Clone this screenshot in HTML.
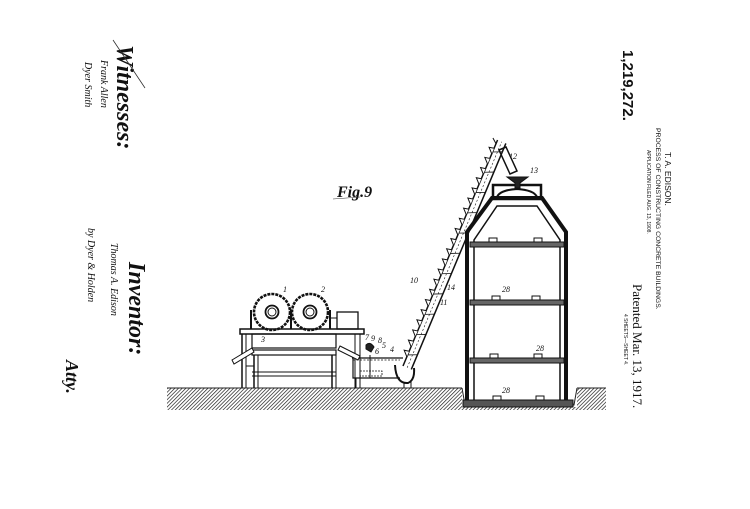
<!DOCTYPE html>
<html><head><meta charset="utf-8"><style>
html,body{margin:0;padding:0;background:#fff;}
svg{display:block}
text{fill:#111}
</style></head><body>
<svg width="750" height="509" viewBox="0 0 750 509" xmlns="http://www.w3.org/2000/svg">
<defs>
<pattern id="h" width="2.6" height="2.6" patternUnits="userSpaceOnUse" patternTransform="rotate(45)">
<line x1="0" y1="0" x2="0" y2="2.6" stroke="#222" stroke-width="1.4"/>
</pattern>
</defs>
<rect width="750" height="509" fill="#fff"/>

<!-- ground -->
<path d="M167,388 H462 V407 H577 V388 H606 V410 H167 Z" fill="url(#h)"/>
<line x1="167" y1="388" x2="462" y2="388" stroke="#222" stroke-width="1"/>
<line x1="577" y1="388" x2="606" y2="388" stroke="#222" stroke-width="1"/>
<path d="M462,388 L465,405 H574 L577,388" fill="#fff" stroke="#222"/>

<!-- building -->
<g fill="none" stroke="#111">
<rect x="463" y="400" width="110" height="7" fill="#555"/>
<path d="M467,400 V232 L492,198 H542 L566,232 V400" stroke-width="4"/>
<path d="M474,400 V240 L497,206 H537 L560,240 V400" stroke-width="1.5"/>
<rect x="470" y="242" width="94" height="5" fill="#666" stroke-width="1"/>
<rect x="470" y="300" width="94" height="5" fill="#666" stroke-width="1"/>
<rect x="470" y="358" width="94" height="5" fill="#666" stroke-width="1"/>
<rect x="493" y="185" width="48" height="14" stroke-width="2.5"/>
<path d="M497,197 Q500,190 517,189 Q534,190 537,197" stroke-width="2"/>
<path d="M507,177 H528 L520,183 V188 H515 V183 Z" fill="#222"/>
<g fill="#fff" stroke-width="1">
<rect x="489" y="238" width="8" height="4"/><rect x="534" y="238" width="8" height="4"/>
<rect x="492" y="296" width="8" height="4"/><rect x="532" y="296" width="8" height="4"/>
<rect x="490" y="354" width="8" height="4"/><rect x="534" y="354" width="8" height="4"/>
<rect x="493" y="396" width="8" height="4"/><rect x="536" y="396" width="8" height="4"/>
</g>
</g>
<g font-family="Liberation Serif,serif" font-style="italic" font-size="8">
<text x="502" y="292">28</text><text x="536" y="351">28</text><text x="502" y="393">28</text>
<text x="509" y="159">12</text><text x="530" y="173">13</text>
<text x="410" y="283">10</text><text x="447" y="290">14</text><text x="440" y="305">11</text>
<text x="283" y="292">1</text><text x="321" y="292">2</text><text x="261" y="342">3</text>
<text x="365" y="340">7</text><text x="371" y="341">9</text><text x="378" y="343">8</text>
<text x="382" y="348">5</text><text x="375" y="354">6</text><text x="390" y="352">4</text>
</g>

<!-- chute 12 -->
<path d="M499,150 L506,147 L517,171 L510,174 Z" fill="#fff" stroke="#111" stroke-width="1.5"/>

<!-- conveyor -->
<g transform="translate(403,366) rotate(-67.3)" stroke="#111" fill="none">
<line x1="0" y1="0" x2="245" y2="0" stroke-width="1.5"/>
<line x1="0" y1="9" x2="245" y2="9" stroke-width="1.5"/>
<line x1="0" y1="4.5" x2="245" y2="4.5" stroke-width="0.6" stroke-dasharray="2 2"/>
<g fill="#fff" stroke-width="1">
<path d="M10,0 l5,-5 l1,5"/><path d="M21,0 l5,-5 l1,5"/><path d="M32,0 l5,-5 l1,5"/><path d="M43,0 l5,-5 l1,5"/>
<path d="M54,0 l5,-5 l1,5"/><path d="M65,0 l5,-5 l1,5"/><path d="M76,0 l5,-5 l1,5"/><path d="M87,0 l5,-5 l1,5"/>
<path d="M98,0 l5,-5 l1,5"/><path d="M109,0 l5,-5 l1,5"/><path d="M120,0 l5,-5 l1,5"/><path d="M131,0 l5,-5 l1,5"/>
<path d="M142,0 l5,-5 l1,5"/><path d="M153,0 l5,-5 l1,5"/><path d="M164,0 l5,-5 l1,5"/><path d="M175,0 l5,-5 l1,5"/>
<path d="M186,0 l5,-5 l1,5"/><path d="M197,0 l5,-5 l1,5"/><path d="M208,0 l5,-5 l1,5"/><path d="M219,0 l5,-5 l1,5"/>
<path d="M230,0 l5,-5 l1,5"/><path d="M241,0 l4,-5"/>
</g>
<g stroke-width="0.8">
<path d="M12,0 l4,9"/><path d="M34,0 l4,9"/><path d="M56,0 l4,9"/><path d="M78,0 l4,9"/><path d="M100,0 l4,9"/>
<path d="M122,0 l4,9"/><path d="M144,0 l4,9"/><path d="M166,0 l4,9"/><path d="M188,0 l4,9"/><path d="M210,0 l4,9"/><path d="M232,0 l4,9"/>
</g>
</g>
<!-- boot -->
<path d="M395,365 Q396,384 408,383 Q415,380 414,368" fill="none" stroke="#111" stroke-width="2"/>
<line x1="404" y1="383" x2="404" y2="388" stroke="#111"/><line x1="411" y1="381" x2="411" y2="388" stroke="#111"/>

<!-- tank 4-6 -->
<g fill="none" stroke="#111">
<path d="M352,358 H403 M353,358 V378 H400" stroke-width="1.2"/>
<path d="M353,360 H400" stroke-dasharray="2 1.5" stroke-width="0.8"/>
<rect x="360" y="371" width="22" height="5" stroke-dasharray="2 1" stroke-width="0.8"/>
<line x1="370" y1="355" x2="370" y2="378"/>
<path d="M366,345 Q370,341 374,347 L371,352 L366,349 Z" fill="#222"/>
<line x1="356" y1="378" x2="356" y2="388"/><line x1="360" y1="378" x2="360" y2="388"/>
</g>

<!-- mixer table -->
<g fill="none" stroke="#111">
<rect x="240" y="329" width="124" height="5" stroke-width="1.5"/>
<rect x="252" y="334" width="84" height="14" stroke-width="1.2"/>
<line x1="252" y1="348" x2="336" y2="348" stroke-dasharray="2 1.5"/>
<rect x="252" y="350" width="84" height="5" stroke-width="1.2"/>
<line x1="252" y1="372" x2="336" y2="372"/><line x1="252" y1="376" x2="336" y2="376"/>
<line x1="242" y1="334" x2="242" y2="388" stroke-width="1.5"/><line x1="246" y1="334" x2="246" y2="388"/>
<line x1="254" y1="355" x2="254" y2="388" stroke-width="1.5"/><line x1="258" y1="355" x2="258" y2="388"/>
<line x1="332" y1="355" x2="332" y2="388" stroke-width="1.5"/><line x1="336" y1="355" x2="336" y2="388"/>
<line x1="355" y1="334" x2="355" y2="388"/><line x1="360" y1="334" x2="360" y2="388"/>
<path d="M232,360 L252,348 L254,352 L234,364 Z" fill="#fff"/>
<path d="M340,346 L360,356 L358,360 L338,350 Z" fill="#fff"/>
<line x1="246" y1="366" x2="254" y2="366"/>
<rect x="337" y="312" width="21" height="17" stroke-width="1.3"/>
<rect x="330" y="318" width="7" height="11"/>
<circle cx="272" cy="312" r="18" stroke-width="2.6" stroke-dasharray="3 1"/>
<circle cx="272" cy="312" r="6.5" stroke-width="1.8"/><circle cx="272" cy="312" r="4"/>
<circle cx="310" cy="312" r="18" stroke-width="2.6" stroke-dasharray="3 1"/>
<circle cx="310" cy="312" r="6.5" stroke-width="1.8"/><circle cx="310" cy="312" r="4"/>
<line x1="251" y1="310" x2="251" y2="329" stroke-width="2"/><line x1="291" y1="310" x2="291" y2="329" stroke-width="2"/>
<line x1="330" y1="310" x2="330" y2="329" stroke-width="2"/>
</g>

<!-- Fig. 9 -->
<text x="337" y="197" font-family="Liberation Serif,serif" font-style="italic" font-weight="bold" font-size="16">Fig.9</text>
<line x1="333" y1="199" x2="360" y2="197" stroke="#333" stroke-width="0.6"/>

<!-- right header text (rotated) -->
<g font-family="Liberation Sans,sans-serif">
<text transform="translate(623,50) rotate(90)" font-size="15" font-weight="bold">1,219,272.</text>
<text transform="translate(665,152) rotate(90)" font-size="8.5">T. A. EDISON.</text>
<text transform="translate(656,128) rotate(90)" font-size="6.8">PROCESS OF CONSTRUCTING CONCRETE BUILDINGS.</text>
<text transform="translate(647,150) rotate(90)" font-size="5">APPLICATION FILED AUG. 13, 1908.</text>
<text transform="translate(624,314) rotate(90)" font-size="5">4 SHEETS—SHEET 4.</text>
</g>
<text transform="translate(633,284) rotate(90)" font-family="Liberation Serif,serif" font-size="13">Patented Mar. 13, 1917.</text>

<!-- left signatures (rotated) -->
<g font-family="Liberation Serif,serif" font-style="italic">
<text transform="translate(117,45) rotate(90)" font-size="24" font-weight="bold">Witnesses:</text>
<line x1="113" y1="40" x2="145" y2="88" stroke="#333" stroke-width="0.8"/>
<text transform="translate(101,60) rotate(90)" font-size="10">Frank Allen</text>
<text transform="translate(85,62) rotate(90)" font-size="10">Dyer Smith</text>
<text transform="translate(129,262) rotate(90)" font-size="24" font-weight="bold">Inventor:</text>
<text transform="translate(111,243) rotate(90)" font-size="10">Thomas A. Edison</text>
<text transform="translate(88,228) rotate(90)" font-size="10">by Dyer &amp; Holden</text>
<text transform="translate(66,360) rotate(90)" font-size="18" font-weight="bold">Atty.</text>
</g>
</svg>
</body></html>
